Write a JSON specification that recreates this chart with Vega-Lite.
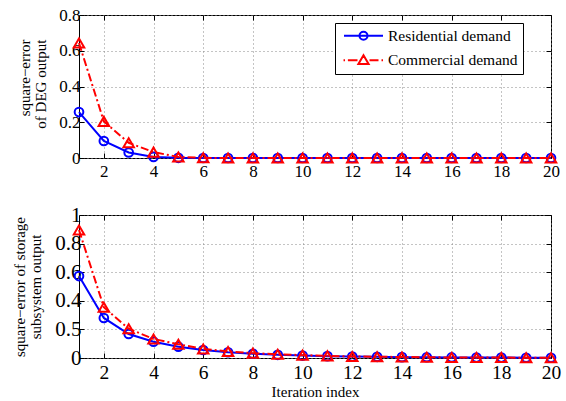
{
  "$schema": "https://vega.github.io/schema/vega-lite/v6.json",
  "padding": {"left": 11, "top": 5, "right": 0, "bottom": 0},
  "bounds": "flush",
  "spacing": 57,
  "config": {
    "font": "Liberation Serif",
    "view": {"stroke": "black", "strokeWidth": 1},
    "style": {"guide-label": {"font": "Liberation Serif", "fill": "black"}, "guide-title": {"font": "Liberation Serif", "fill": "black"}},
    "axis": {"labelFont": "Liberation Serif", "titleFont": "Liberation Serif", "labelColor": "black", "titleColor": "black", "titleFontWeight": "normal", "gridColor": "#888888", "gridDash": [1, 3], "gridWidth": 1, "tickColor": "black", "domain": false, "labelFlush": false, "labelOverlap": false, "format": "~g"},
    "legend": {"labelFont": "Liberation Serif"}
  },
  "datasets": {
    "deg": [
      {"iteration": 1, "demand": "Residential demand", "error": 0.257},
      {"iteration": 2, "demand": "Residential demand", "error": 0.095},
      {"iteration": 3, "demand": "Residential demand", "error": 0.031},
      {"iteration": 4, "demand": "Residential demand", "error": 0.006},
      {"iteration": 5, "demand": "Residential demand", "error": 0.001},
      {"iteration": 6, "demand": "Residential demand", "error": 0},
      {"iteration": 7, "demand": "Residential demand", "error": 0},
      {"iteration": 8, "demand": "Residential demand", "error": 0},
      {"iteration": 9, "demand": "Residential demand", "error": 0},
      {"iteration": 10, "demand": "Residential demand", "error": 0},
      {"iteration": 11, "demand": "Residential demand", "error": 0},
      {"iteration": 12, "demand": "Residential demand", "error": 0},
      {"iteration": 13, "demand": "Residential demand", "error": 0},
      {"iteration": 14, "demand": "Residential demand", "error": 0},
      {"iteration": 15, "demand": "Residential demand", "error": 0},
      {"iteration": 16, "demand": "Residential demand", "error": 0},
      {"iteration": 17, "demand": "Residential demand", "error": 0},
      {"iteration": 18, "demand": "Residential demand", "error": 0},
      {"iteration": 19, "demand": "Residential demand", "error": 0},
      {"iteration": 20, "demand": "Residential demand", "error": 0},
      {"iteration": 1, "demand": "Commercial demand", "error": 0.643},
      {"iteration": 2, "demand": "Commercial demand", "error": 0.205},
      {"iteration": 3, "demand": "Commercial demand", "error": 0.085},
      {"iteration": 4, "demand": "Commercial demand", "error": 0.033},
      {"iteration": 5, "demand": "Commercial demand", "error": 0.006},
      {"iteration": 6, "demand": "Commercial demand", "error": 0.001},
      {"iteration": 7, "demand": "Commercial demand", "error": 0},
      {"iteration": 8, "demand": "Commercial demand", "error": 0},
      {"iteration": 9, "demand": "Commercial demand", "error": 0},
      {"iteration": 10, "demand": "Commercial demand", "error": 0},
      {"iteration": 11, "demand": "Commercial demand", "error": 0},
      {"iteration": 12, "demand": "Commercial demand", "error": 0},
      {"iteration": 13, "demand": "Commercial demand", "error": 0},
      {"iteration": 14, "demand": "Commercial demand", "error": 0},
      {"iteration": 15, "demand": "Commercial demand", "error": 0},
      {"iteration": 16, "demand": "Commercial demand", "error": 0},
      {"iteration": 17, "demand": "Commercial demand", "error": 0},
      {"iteration": 18, "demand": "Commercial demand", "error": 0},
      {"iteration": 19, "demand": "Commercial demand", "error": 0},
      {"iteration": 20, "demand": "Commercial demand", "error": 0}
    ],
    "storage": [
      {"iteration": 1, "demand": "Residential demand", "error": 0.573},
      {"iteration": 2, "demand": "Residential demand", "error": 0.28},
      {"iteration": 3, "demand": "Residential demand", "error": 0.168},
      {"iteration": 4, "demand": "Residential demand", "error": 0.114},
      {"iteration": 5, "demand": "Residential demand", "error": 0.079},
      {"iteration": 6, "demand": "Residential demand", "error": 0.056},
      {"iteration": 7, "demand": "Residential demand", "error": 0.04},
      {"iteration": 8, "demand": "Residential demand", "error": 0.03},
      {"iteration": 9, "demand": "Residential demand", "error": 0.022},
      {"iteration": 10, "demand": "Residential demand", "error": 0.017},
      {"iteration": 11, "demand": "Residential demand", "error": 0.013},
      {"iteration": 12, "demand": "Residential demand", "error": 0.01},
      {"iteration": 13, "demand": "Residential demand", "error": 0.008},
      {"iteration": 14, "demand": "Residential demand", "error": 0.006},
      {"iteration": 15, "demand": "Residential demand", "error": 0.005},
      {"iteration": 16, "demand": "Residential demand", "error": 0.004},
      {"iteration": 17, "demand": "Residential demand", "error": 0.003},
      {"iteration": 18, "demand": "Residential demand", "error": 0.003},
      {"iteration": 19, "demand": "Residential demand", "error": 0.002},
      {"iteration": 20, "demand": "Residential demand", "error": 0.002},
      {"iteration": 1, "demand": "Commercial demand", "error": 0.895},
      {"iteration": 2, "demand": "Commercial demand", "error": 0.355},
      {"iteration": 3, "demand": "Commercial demand", "error": 0.205},
      {"iteration": 4, "demand": "Commercial demand", "error": 0.133},
      {"iteration": 5, "demand": "Commercial demand", "error": 0.096},
      {"iteration": 6, "demand": "Commercial demand", "error": 0.063},
      {"iteration": 7, "demand": "Commercial demand", "error": 0.046},
      {"iteration": 8, "demand": "Commercial demand", "error": 0.034},
      {"iteration": 9, "demand": "Commercial demand", "error": 0.026},
      {"iteration": 10, "demand": "Commercial demand", "error": 0.02},
      {"iteration": 11, "demand": "Commercial demand", "error": 0.015},
      {"iteration": 12, "demand": "Commercial demand", "error": 0.011},
      {"iteration": 13, "demand": "Commercial demand", "error": 0.009},
      {"iteration": 14, "demand": "Commercial demand", "error": 0.007},
      {"iteration": 15, "demand": "Commercial demand", "error": 0.005},
      {"iteration": 16, "demand": "Commercial demand", "error": 0.004},
      {"iteration": 17, "demand": "Commercial demand", "error": 0.003},
      {"iteration": 18, "demand": "Commercial demand", "error": 0.003},
      {"iteration": 19, "demand": "Commercial demand", "error": 0.002},
      {"iteration": 20, "demand": "Commercial demand", "error": 0.002}
    ]
  },
  "vconcat": [
    {
      "width": 472,
      "height": 143,
      "data": {"name": "deg"},
      "resolve": {"axis": {"x": "independent", "y": "independent"}},
      "layer": [
        {
          "transform": [{"filter": "datum.demand === 'Residential demand'"}],
          "mark": {"type": "line", "strokeWidth": 2},
          "encoding": {
            "x": {"field": "iteration", "type": "quantitative", "scale": {"domain": [1, 20], "nice": false}, "axis": {"values": [2, 4, 6, 8, 10, 12, 14, 16, 18, 20], "format": "~g", "labelFont": "Liberation Serif", "tickSize": -5, "labelPadding": 10, "labelFontSize": 17, "grid": true, "title": null}},
            "y": {"field": "error", "type": "quantitative", "scale": {"domain": [0, 0.8], "nice": false}, "axis": {"values": [0, 0.2, 0.4, 0.6, 0.8], "format": "~g", "labelFont": "Liberation Serif", "tickSize": -5, "labelPadding": 4, "labelFontSize": 17, "grid": true, "title": ["square−error", "of DEG output"], "titleFont": "Liberation Serif", "titleFontSize": 15, "titleLineHeight": 16.5, "titleAngle": -90, "titleAlign": "right", "titleBaseline": "top", "titleX": -62, "titleY": 24}},
            "color": {"field": "demand", "type": "nominal", "scale": {"domain": ["Residential demand", "Commercial demand"], "range": ["#0000ff", "#ff0000"]},
              "legend": {"orient": "none", "legendX": 256, "legendY": 8, "title": null, "padding": 5, "strokeColor": "black", "fillColor": "white", "labelFont": "Liberation Serif", "labelFontSize": 15.5, "labelColor": "black", "rowPadding": 5.5, "symbolSize": 144, "symbolStrokeWidth": 2, "labelExpr": "datum.label + '  '",
                "encode": {
                  "symbols": {"update": {"shape": {"signal": "datum.value === 'Residential demand' ? 'M-3.25,0H3.25M0.67,0A0.67,0.67 0 1,1 -0.67,0A0.67,0.67 0 1,1 0.67,0' : 'M-3.33,0H-3.08M-2.6,0H-1.0M1.0,0H2.5M3.0,0H3.25M0,-0.82L0.85,0.62L-0.85,0.62Z'"}, "x": {"value": 23.5}, "fill": {"value": "transparent"}, "strokeDash": {"value": []}, "strokeWidth": {"value": 2}, "opacity": {"value": 1}}},
                  "labels": {"update": {"x": {"value": 48}}}
                }}}
          }
        },
        {
          "transform": [{"filter": "datum.demand === 'Residential demand'"}],
          "mark": {"type": "point", "shape": "circle", "filled": false, "size": 75, "strokeWidth": 2, "opacity": 1},
          "encoding": {
            "x": {"field": "iteration", "type": "quantitative", "axis": {"orient": "top", "values": [2, 4, 6, 8, 10, 12, 14, 16, 18, 20], "tickSize": -5, "labels": false, "grid": false, "title": null}},
            "y": {"field": "error", "type": "quantitative", "axis": {"orient": "right", "values": [0, 0.2, 0.4, 0.6, 0.8], "tickSize": -5, "labels": false, "grid": false, "title": null}},
            "color": {"field": "demand", "type": "nominal", "legend": null}
          }
        },
        {
          "transform": [{"filter": "datum.demand === 'Commercial demand'"}],
          "mark": {"type": "line", "strokeWidth": 2, "strokeDash": [8, 3, 2, 3]},
          "encoding": {
            "x": {"field": "iteration", "type": "quantitative", "axis": null},
            "y": {"field": "error", "type": "quantitative", "axis": null},
            "color": {"field": "demand", "type": "nominal", "legend": null}
          }
        },
        {
          "transform": [{"filter": "datum.demand === 'Commercial demand'"}],
          "mark": {"type": "point", "shape": "triangle-up", "filled": false, "size": 110, "strokeWidth": 2, "opacity": 1},
          "encoding": {
            "x": {"field": "iteration", "type": "quantitative", "axis": null},
            "y": {"field": "error", "type": "quantitative", "axis": null},
            "color": {"field": "demand", "type": "nominal", "legend": null}
          }
        }
      ]
    },
    {
      "width": 472,
      "height": 143,
      "data": {"name": "storage"},
      "resolve": {"axis": {"x": "independent", "y": "independent"}},
      "layer": [
        {
          "transform": [{"filter": "datum.demand === 'Residential demand'"}],
          "mark": {"type": "line", "strokeWidth": 2},
          "encoding": {
            "x": {"field": "iteration", "type": "quantitative", "scale": {"domain": [1, 20], "nice": false}, "axis": {"values": [2, 4, 6, 8, 10, 12, 14, 16, 18, 20], "format": "~g", "labelFont": "Liberation Serif", "tickSize": -5, "labelPadding": 10, "labelFontSize": 19.5, "grid": true, "title": "Iteration index", "titleFont": "Liberation Serif", "titleFontSize": 15, "titleBaseline": "alphabetic", "titleY": 38}},
            "y": {"field": "error", "type": "quantitative", "scale": {"domain": [0, 1], "nice": false}, "axis": {"values": [0, 0.2, 0.4, 0.6, 0.8, 1], "format": "~g", "labelExpr": "datum.value == 0.2 ? '0.5' : datum.label", "labelFont": "Liberation Serif", "tickSize": -5, "labelPadding": 3, "labelFontSize": 21, "grid": true, "title": ["square−error of storage", "subsystem output"], "titleFont": "Liberation Serif", "titleFontSize": 15, "titleLineHeight": 16.5, "titleAngle": -90, "titleAlign": "center", "titleBaseline": "top", "titleX": -67, "titleY": 71.5}},
            "color": {"field": "demand", "type": "nominal", "scale": {"domain": ["Residential demand", "Commercial demand"], "range": ["#0000ff", "#ff0000"]},
              "legend": {"orient": "none", "legendX": 258, "legendY": 10, "title": null, "padding": 5, "strokeColor": "black", "fillColor": "white", "labelFont": "Liberation Serif", "labelFontSize": 15.5, "labelColor": "black", "rowPadding": 5.5, "symbolSize": 144, "symbolStrokeWidth": 2, "labelExpr": "datum.label + '  '",
                "encode": {
                  "symbols": {"update": {"shape": {"signal": "datum.value === 'Residential demand' ? 'M-3.25,0H3.25M0.67,0A0.67,0.67 0 1,1 -0.67,0A0.67,0.67 0 1,1 0.67,0' : 'M-3.33,0H-3.08M-2.6,0H-1.0M1.0,0H2.5M3.0,0H3.25M0,-0.82L0.85,0.62L-0.85,0.62Z'"}, "x": {"value": 23.5}, "fill": {"value": "transparent"}, "strokeDash": {"value": []}, "strokeWidth": {"value": 2}, "opacity": {"value": 1}}},
                  "labels": {"update": {"x": {"value": 48}}}
                }}}
          }
        },
        {
          "transform": [{"filter": "datum.demand === 'Residential demand'"}],
          "mark": {"type": "point", "shape": "circle", "filled": false, "size": 75, "strokeWidth": 2, "opacity": 1},
          "encoding": {
            "x": {"field": "iteration", "type": "quantitative", "axis": {"orient": "top", "values": [2, 4, 6, 8, 10, 12, 14, 16, 18, 20], "tickSize": -5, "labels": false, "grid": false, "title": null}},
            "y": {"field": "error", "type": "quantitative", "axis": {"orient": "right", "values": [0, 0.2, 0.4, 0.6, 0.8, 1], "tickSize": -5, "labels": false, "grid": false, "title": null}},
            "color": {"field": "demand", "type": "nominal", "legend": null}
          }
        },
        {
          "transform": [{"filter": "datum.demand === 'Commercial demand'"}],
          "mark": {"type": "line", "strokeWidth": 2, "strokeDash": [8, 3, 2, 3]},
          "encoding": {
            "x": {"field": "iteration", "type": "quantitative", "axis": null},
            "y": {"field": "error", "type": "quantitative", "axis": null},
            "color": {"field": "demand", "type": "nominal", "legend": null}
          }
        },
        {
          "transform": [{"filter": "datum.demand === 'Commercial demand'"}],
          "mark": {"type": "point", "shape": "triangle-up", "filled": false, "size": 110, "strokeWidth": 2, "opacity": 1},
          "encoding": {
            "x": {"field": "iteration", "type": "quantitative", "axis": null},
            "y": {"field": "error", "type": "quantitative", "axis": null},
            "color": {"field": "demand", "type": "nominal", "legend": null}
          }
        }
      ]
    }
  ]
}
